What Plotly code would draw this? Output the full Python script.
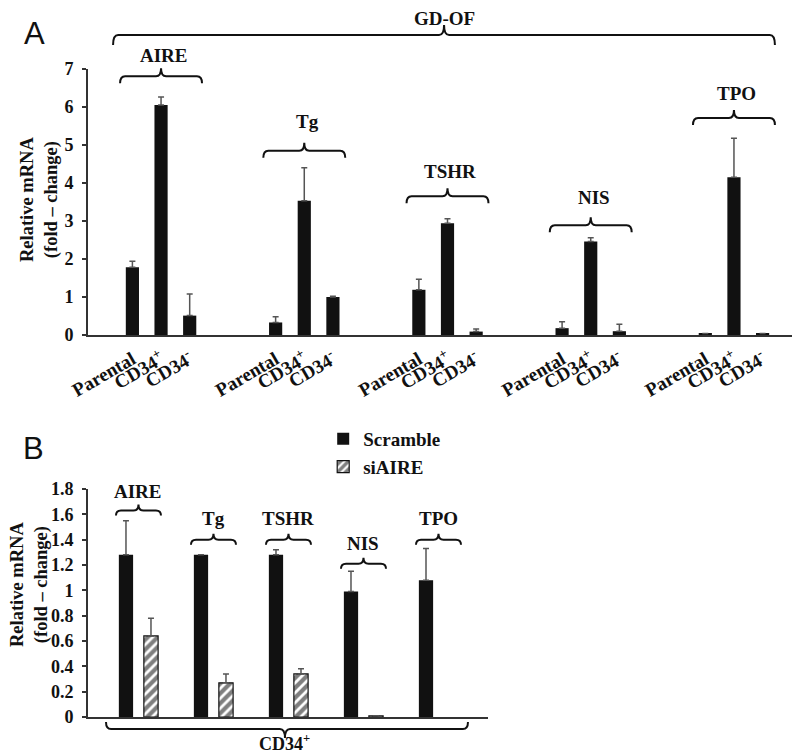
import plotly.graph_objects as go

# ---------------- data ----------------
genes_a = ["AIRE", "Tg", "TSHR", "NIS", "TPO"]
conditions_a = ["Parental", "CD34<sup>+</sup>", "CD34<sup>-</sup>"]
parental = [1.78, 0.33, 1.19, 0.18, 0.04]
cd34_pos = [6.05, 3.53, 2.94, 2.46, 4.15]
cd34_neg = [0.51, 1.00, 0.09, 0.10, 0.04]
parental_err = [0.16, 0.15, 0.28, 0.17, 0.0]
cd34_pos_err = [0.21, 0.87, 0.12, 0.10, 1.03]
cd34_neg_err = [0.57, 0.02, 0.07, 0.18, 0.0]

genes_b = ["AIRE", "Tg", "TSHR", "NIS", "TPO"]
scramble = [1.28, 1.28, 1.28, 0.99, 1.08]
scramble_err = [0.27, 0.0, 0.04, 0.16, 0.25]
siaire = [0.64, 0.27, 0.34, 0.01, None]
siaire_err = [0.14, 0.07, 0.04, 0.0, None]

# ---------------- geometry helpers ----------------
W, H = 800, 754
domA_y = [1 - 327 / H, 1 - 61 / H]
domB_y = [1 - 709 / H, 1 - 481 / H]
yA_max, yB_max = 7.0, 1.8


def ya(v):
    return domA_y[0] + v / yA_max * (domA_y[1] - domA_y[0])


def yb(v):
    return domB_y[0] + v / yB_max * (domB_y[1] - domB_y[0])


def px(p):
    return p / H


SERIF = "Liberation Serif"
BLACK = "#111111"

fig = go.Figure()

# ---------------- panel A ----------------
series_a = [parental, cd34_pos, cd34_neg]
errs_a = [parental_err, cd34_pos_err, cd34_neg_err]
xa, va, ea, la = [], [], [], []
for gi in range(len(genes_a)):
    for ci in range(len(conditions_a)):
        xa.append(gi + (ci - 1) * 0.2)
        va.append(series_a[ci][gi])
        ea.append(errs_a[ci][gi])
        la.append(conditions_a[ci])

fig.add_trace(go.Bar(
    x=xa, y=va, width=0.092, marker=dict(color=BLACK, line=dict(width=0)),
    error_y=dict(type="data", symmetric=False, array=ea, arrayminus=[0] * len(ea),
                 color="#555555", thickness=1.5, width=3),
    xaxis="x", yaxis="y", showlegend=False))

# ---------------- panel B ----------------
xs = [g - 1 / 6 for g in range(len(genes_b))]
xsi = [g + 1 / 6 for g in range(len(genes_b))]
fig.add_trace(go.Bar(
    x=xs, y=scramble, width=0.19, name="Scramble",
    marker=dict(color=BLACK, line=dict(width=0)),
    error_y=dict(type="data", symmetric=False, array=scramble_err,
                 arrayminus=[0] * len(scramble_err), color="#555555", thickness=1.5, width=3),
    xaxis="x2", yaxis="y2", legendgroup="a"))
fig.add_trace(go.Bar(
    x=xsi, y=siaire, width=0.19, name="siAIRE",
    marker=dict(color="white", line=dict(color=BLACK, width=1.2),
                pattern=dict(shape="/", fgcolor="#000000", bgcolor="white", size=7, solidity=0.6)),
    error_y=dict(type="data", symmetric=False, array=siaire_err,
                 arrayminus=[0] * len(siaire_err), color="#555555", thickness=1.5, width=3),
    xaxis="x2", yaxis="y2", legendgroup="b"))

# ---------------- braces ----------------
shapes = []


def brace(xref, x0, x1, xm, yl, ye, yt, dx):
    path = (f"M{x0},{ye} Q{x0},{yl} {x0 + dx},{yl} L{xm - dx},{yl} "
            f"Q{xm},{yl} {xm},{yt} Q{xm},{yl} {xm + dx},{yl} "
            f"L{x1 - dx},{yl} Q{x1},{yl} {x1},{ye}")
    shapes.append(dict(type="path", path=path, xref=xref, yref="paper",
                       line=dict(color=BLACK, width=2)))


annotations = []


def label(text, xref, x, y, size=19, yanchor="middle"):
    annotations.append(dict(text=text, xref=xref, yref="paper", x=x, y=y,
                            showarrow=False, xanchor="center", yanchor=yanchor,
                            font=dict(family=SERIF, size=size, color=BLACK, weight="bold")))


brace_a = [6.81, 4.85, 3.65, 2.89, 5.71]
label_a = [7.36, 5.62, 4.31, 3.62, 6.36]
for gi, g in enumerate(genes_a):
    yl = ya(brace_a[gi])
    brace("x", gi - 0.286, gi + 0.286, gi, yl, yl - px(7), yl + px(8), 0.035)
    label(g, "x", gi + 0.02, ya(label_a[gi]))

# GD-OF brace
ygd = 1 - 27 / H
brace("x", -0.335, 4.286, 1.976, ygd, ygd - px(10), ygd + px(10), 0.035)
label("GD-OF", "x", 1.976, 1 - 10 / H)

brace_b = [1.63, 1.40, 1.40, 1.21, 1.40]
label_b = [1.78, 1.57, 1.57, 1.37, 1.57]
for gi, g in enumerate(genes_b):
    yl = yb(brace_b[gi])
    brace("x2", gi - 0.3, gi + 0.3, gi, yl, yl - px(5), yl + px(6), 0.067)
    label(g, "x2", gi, yb(label_b[gi]))

# CD34+ bottom brace (inverted)
ycd = 1 - 721 / H
brace("x2", -0.433, 4.393, 1.953, ycd, ycd + px(7), ycd - px(9), 0.067)
label("CD34<sup>+</sup>", "x2", 1.953, 1 - 734 / H, size=18)

# y-axis titles
for xc, yc in [(32 / W, 1 - 192 / H), (21 / W, 1 - 577 / H)]:
    annotations.append(dict(text="Relative mRNA<br>(fold – change)", xref="paper", yref="paper",
                            x=xc, y=yc, showarrow=False, textangle=-90,
                            xanchor="center", yanchor="middle",
                            font=dict(family=SERIF, size=18.5, color=BLACK, weight="bold")))

# panel letters
annotations.append(dict(text="A", xref="paper", yref="paper", x=26 / W, y=1 - 26 / H,
                        showarrow=False, xanchor="center", yanchor="middle",
                        font=dict(family="Liberation Sans", size=31, color=BLACK)))
annotations.append(dict(text="B", xref="paper", yref="paper", x=25 / W, y=1 - 440 / H,
                        showarrow=False, xanchor="center", yanchor="middle",
                        font=dict(family="Liberation Sans", size=31, color=BLACK)))

tickfont = dict(family=SERIF, size=18, color=BLACK, weight="bold")
fig.update_layout(
    width=W, height=H, margin=dict(l=0, r=0, t=0, b=0),
    paper_bgcolor="white", plot_bgcolor="white",
    xaxis=dict(domain=[80 / W, 797 / W], range=[-0.51, 4.496], anchor="y",
               tickmode="array", tickvals=xa, ticktext=la, tickangle=-30,
               ticks="", showgrid=False, zeroline=False, showline=True,
               linecolor="#333333", linewidth=2, automargin=False,
               ticklabelstandoff=4,
               tickfont=dict(family=SERIF, size=19, color=BLACK, weight="bold")),
    yaxis=dict(domain=domA_y, range=[0, yA_max], dtick=1, anchor="x",
               ticks="outside", ticklen=4, tickwidth=1.5, tickcolor="#333333",
               ticklabelstandoff=5,
               showgrid=False, zeroline=False, showline=True, linecolor="#333333",
               linewidth=2, automargin=False, tickfont=tickfont),
    xaxis2=dict(domain=[80 / W, 480 / W], range=[-0.673, 4.66], anchor="y2",
                showticklabels=False, ticks="", showgrid=False, zeroline=False,
                showline=True, linecolor="#333333", linewidth=2, automargin=False),
    yaxis2=dict(domain=domB_y, range=[0, yB_max], dtick=0.2, anchor="x2",
                ticks="outside", ticklen=4, tickwidth=1.5, tickcolor="#333333",
                ticklabelstandoff=5,
                showgrid=False, zeroline=False, showline=True, linecolor="#333333",
                linewidth=2, automargin=False, tickfont=tickfont),
    legend=dict(x=0.394, y=1 - 412 / H, xanchor="left", yanchor="top",
                traceorder="grouped", tracegroupgap=0, bgcolor="rgba(0,0,0,0)",
                font=dict(family=SERIF, size=19, color=BLACK, weight="bold")),
    showlegend=True,
    shapes=shapes, annotations=annotations,
)

fig.write_html("out.html")
